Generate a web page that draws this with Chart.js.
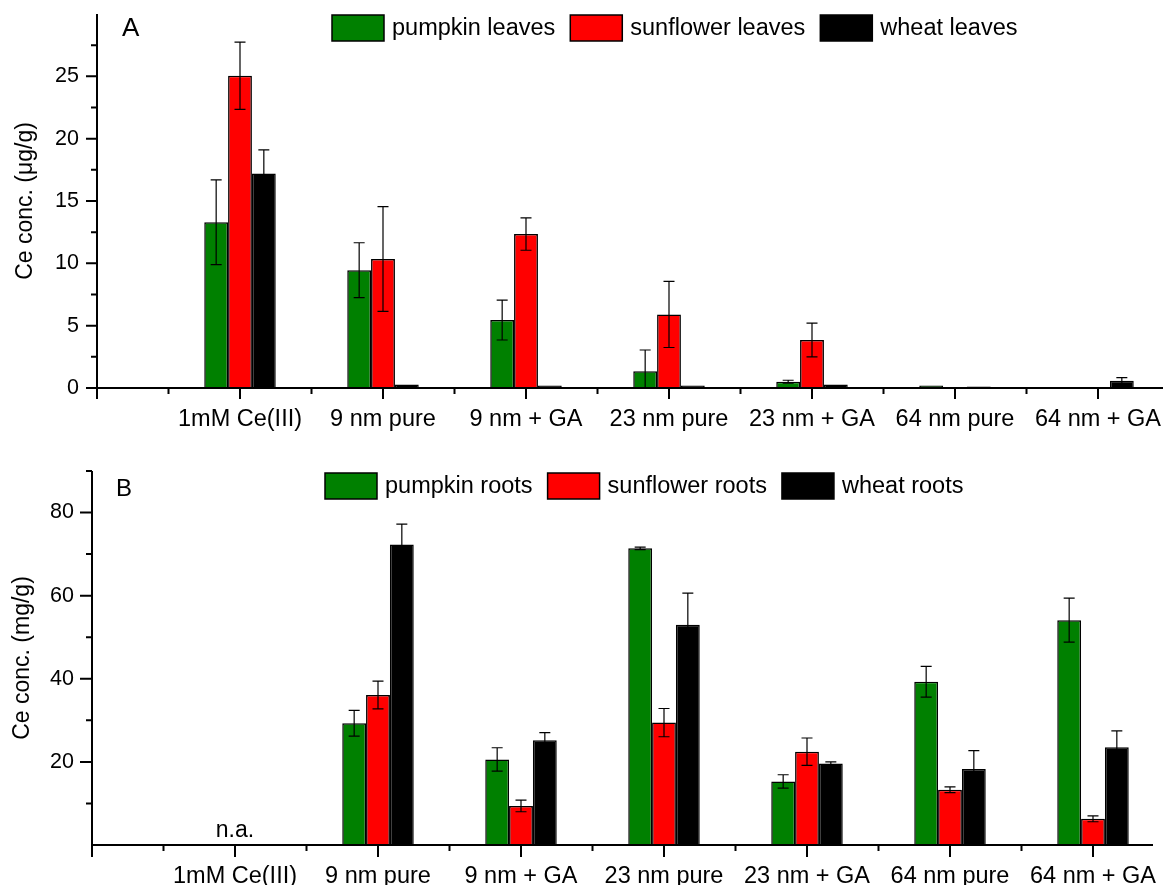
<!DOCTYPE html>
<html>
<head>
<meta charset="utf-8">
<script src="https://cdn.jsdelivr.net/npm/chart.js@4.4.1/dist/chart.umd.min.js"></script>
<style>
  html, body { margin: 0; padding: 0; background: #fff; }
  #wrap { position: relative; width: 1163px; height: 885px; }
  canvas { position: absolute; left: 0; }
</style>
</head>
<body>
<div id="wrap">
  <canvas id="leaves" width="1163" height="440" style="top:0"></canvas>
  <canvas id="roots" width="1163" height="445" style="top:440px"></canvas>
</div>
<script>
const treatments = ['1mM Ce(III)', '9 nm pure', '9 nm + GA', '23 nm pure', '23 nm + GA', '64 nm pure', '64 nm + GA'];

// Leaves: Ce concentration in µg/g, mean and error
const pumpkinLeaves      = [13.3, 9.45, 5.45, 1.35, 0.5, 0.2, 0.08];
const pumpkinLeavesErr   = [3.4, 2.2, 1.6, 1.7, 0.12, 0, 0];
const sunflowerLeaves    = [25.05, 10.35, 12.35, 5.9, 3.85, 0.08, 0.08];
const sunflowerLeavesErr = [2.7, 4.2, 1.3, 2.65, 1.35, 0, 0];
const wheatLeaves        = [17.2, 0.28, 0.2, 0.2, 0.28, 0.12, 0.58];
const wheatLeavesErr     = [1.9, 0, 0, 0, 0, 0, 0.25];

// Roots: Ce concentration in mg/g; the Ce(III) treatment was not analysed
const pumpkinRoots       = [null, 29.3, 20.6, 71.4, 15.3, 39.3, 54.1];
const pumpkinRootsErr    = [null, 3.1, 2.8, 0.3, 1.6, 3.7, 5.3];
const sunflowerRoots     = [null, 36.1, 9.4, 29.45, 22.45, 13.3, 6.3];
const sunflowerRootsErr  = [null, 3.35, 1.4, 3.4, 3.3, 0.7, 0.7];
const wheatRoots         = [null, 72.3, 25.2, 53.0, 19.6, 18.3, 23.5];
const wheatRootsErr      = [null, 4.9, 1.85, 7.6, 0.4, 4.4, 3.95];

const leavesYTicks = [0, 5, 10, 15, 20, 25];
const leavesYMinor = [2.5, 7.5, 12.5, 17.5, 22.5, 27.5];
const rootsYTicks  = [20, 40, 60, 80];
const rootsYMinor  = [10, 30, 50, 70, 90];

const FONT = '"Liberation Sans", Arial, Helvetica, sans-serif';
const GREEN = '#008000', RED = '#ff0000', BLACK = '#000000';

function series(label, values, errors, color) {
  return {
    label,
    data: values.map((v, i) => ({ x: i + 1, y: v })),
    errors,
    backgroundColor: color,
    borderColor: '#000',
    borderWidth: 1.5,
    categoryPercentage: 0.5,
    barPercentage: 1.0
  };
}

// keep the plot area exactly where the layout padding puts it
function noScalePadding(s) {
  s.paddingLeft = 0; s.paddingRight = 0; s.paddingTop = 0; s.paddingBottom = 0;
}

// Error bars, axis lines with major/minor ticks, panel letter and legend
const panelDecor = {
  id: 'panelDecor',
  afterDatasetsDraw(chart) {
    const { ctx, scales: { y } } = chart;
    ctx.save();
    ctx.strokeStyle = '#000';
    ctx.lineWidth = 1.2;
    chart.data.datasets.forEach((ds, di) => {
      chart.getDatasetMeta(di).data.forEach((bar, i) => {
        const v = ds.data[i].y, e = ds.errors[i];
        if (v == null || !e) return;
        const yt = y.getPixelForValue(v + e);
        const yb = y.getPixelForValue(Math.max(0, v - e));
        const cx = bar.x;
        ctx.beginPath();
        ctx.moveTo(cx, yt); ctx.lineTo(cx, yb);
        ctx.moveTo(cx - 5.5, yt); ctx.lineTo(cx + 5.5, yt);
        if (v - e > 0) { ctx.moveTo(cx - 5.5, yb); ctx.lineTo(cx + 5.5, yb); }
        ctx.stroke();
      });
    });
    ctx.restore();
  },
  afterDraw(chart, args, o) {
    const { ctx, chartArea: a, scales: { x, y } } = chart;
    ctx.save();
    ctx.strokeStyle = '#000';
    ctx.lineWidth = 2;
    ctx.beginPath();
    ctx.moveTo(a.left, a.top); ctx.lineTo(a.left, a.bottom + o.major);
    ctx.moveTo(a.left, a.bottom); ctx.lineTo(a.right, a.bottom);
    for (let k = 1; k <= treatments.length; k++) {
      const px = x.getPixelForValue(k);
      ctx.moveTo(px, a.bottom); ctx.lineTo(px, a.bottom + o.major);
    }
    for (let k = 0.5; k <= x.max; k += 1) {
      const px = x.getPixelForValue(k);
      ctx.moveTo(px, a.bottom); ctx.lineTo(px, a.bottom + o.minor);
    }
    o.yMajor.forEach(v => {
      const py = y.getPixelForValue(v);
      ctx.moveTo(a.left - o.major, py); ctx.lineTo(a.left, py);
    });
    o.yMinor.forEach(v => {
      const py = y.getPixelForValue(v);
      ctx.moveTo(a.left - o.minor, py); ctx.lineTo(a.left, py);
    });
    ctx.stroke();

    ctx.fillStyle = '#000';
    ctx.textBaseline = 'alphabetic';
    ctx.textAlign = 'left';
    ctx.font = o.letterSize + 'px ' + FONT;
    ctx.fillText(o.letter, o.letterX, o.letterY);

    if (o.note) {
      ctx.font = '23px ' + FONT;
      ctx.textAlign = 'center';
      ctx.fillText(o.note.text, x.getPixelForValue(o.note.at), o.note.y);
    }

    // legend row
    ctx.font = '23.5px ' + FONT;
    ctx.textAlign = 'left';
    ctx.textBaseline = 'middle';
    let lx = o.legendX;
    const ly = o.legendY, bw = 52, bh = 26;
    chart.data.datasets.forEach(ds => {
      ctx.fillStyle = ds.backgroundColor;
      ctx.fillRect(lx, ly, bw, bh);
      ctx.lineWidth = 1.5;
      ctx.strokeStyle = '#000';
      ctx.strokeRect(lx, ly, bw, bh);
      ctx.fillStyle = '#000';
      const tx = lx + bw + 8;
      ctx.fillText(ds.label, tx, ly + bh / 2 + 1);
      lx = tx + ctx.measureText(ds.label).width + 15;
    });
    ctx.restore();
  }
};

function makePanel(id, datasets, cfg) {
  return new Chart(document.getElementById(id), {
    type: 'bar',
    data: { datasets },
    options: {
      responsive: false,
      animation: false,
      devicePixelRatio: 1,
      layout: { autoPadding: false, padding: { top: cfg.top, right: cfg.right, left: 0, bottom: 0 } },
      plugins: {
        legend: { display: false },
        tooltip: { enabled: false },
        panelDecor: cfg.decor
      },
      scales: {
        x: {
          type: 'linear',
          offset: false,
          min: 0,
          max: cfg.xMax,
          grid: { display: false, drawTicks: false, offset: false },
          border: { display: false },
          afterBuildTicks: s => {
            s.ticks = treatments.map((_, i) => ({ value: i + 1 }));
            s.min = 0;
            s.max = cfg.xMax;
          },
          afterFit: s => { s.height = cfg.xHeight; noScalePadding(s); },
          ticks: {
            autoSkip: false,
            maxRotation: 0,
            minRotation: 0,
            padding: 17,
            color: '#000',
            font: { family: FONT, size: 23.5 },
            callback: v => treatments[Math.round(v) - 1]
          }
        },
        y: {
          min: 0,
          max: cfg.yMax,
          grid: { display: false, drawTicks: false },
          border: { display: false },
          afterBuildTicks: s => { s.ticks = cfg.yTicks.map(v => ({ value: v })); },
          afterFit: s => { s.width = cfg.yWidth; noScalePadding(s); },
          ticks: {
            padding: 18,
            color: '#000',
            font: { family: FONT, size: 21.5 },
            callback: v => String(v)
          },
          title: {
            display: true,
            text: cfg.yTitle,
            color: '#000',
            font: { family: FONT, size: 23 },
            padding: { top: cfg.titlePad, bottom: 0 }
          }
        }
      }
    },
    plugins: [panelDecor]
  });
}

makePanel('leaves', [
  series('pumpkin leaves', pumpkinLeaves, pumpkinLeavesErr, GREEN),
  series('sunflower leaves', sunflowerLeaves, sunflowerLeavesErr, RED),
  series('wheat leaves', wheatLeaves, wheatLeavesErr, BLACK)
], {
  top: 14, right: 0, xHeight: 52, yWidth: 97, xMax: (1163 - 97) / 143,
  yMax: 30, yTicks: leavesYTicks, yTitle: 'Ce conc. (μg/g)', titlePad: 12,
  decor: {
    major: 11, minor: 6, yMajor: leavesYTicks, yMinor: leavesYMinor,
    letter: 'A', letterSize: 26, letterX: 122, letterY: 36,
    legendX: 332, legendY: 15
  }
});

makePanel('roots', [
  series('pumpkin roots', pumpkinRoots, pumpkinRootsErr, GREEN),
  series('sunflower roots', sunflowerRoots, sunflowerRootsErr, RED),
  series('wheat roots', wheatRoots, wheatRootsErr, BLACK)
], {
  top: 31, right: 10, xHeight: 40, yWidth: 92, xMax: (1153 - 92) / 143,
  yMax: 90, yTicks: rootsYTicks, yTitle: 'Ce conc. (mg/g)', titlePad: 9,
  decor: {
    major: 12, minor: 6, yMajor: rootsYTicks, yMinor: rootsYMinor,
    letter: 'B', letterSize: 24, letterX: 116, letterY: 56,
    legendX: 325, legendY: 33,
    note: { text: 'n.a.', at: 1, y: 397 }
  }
});
</script>
</body>
</html>
